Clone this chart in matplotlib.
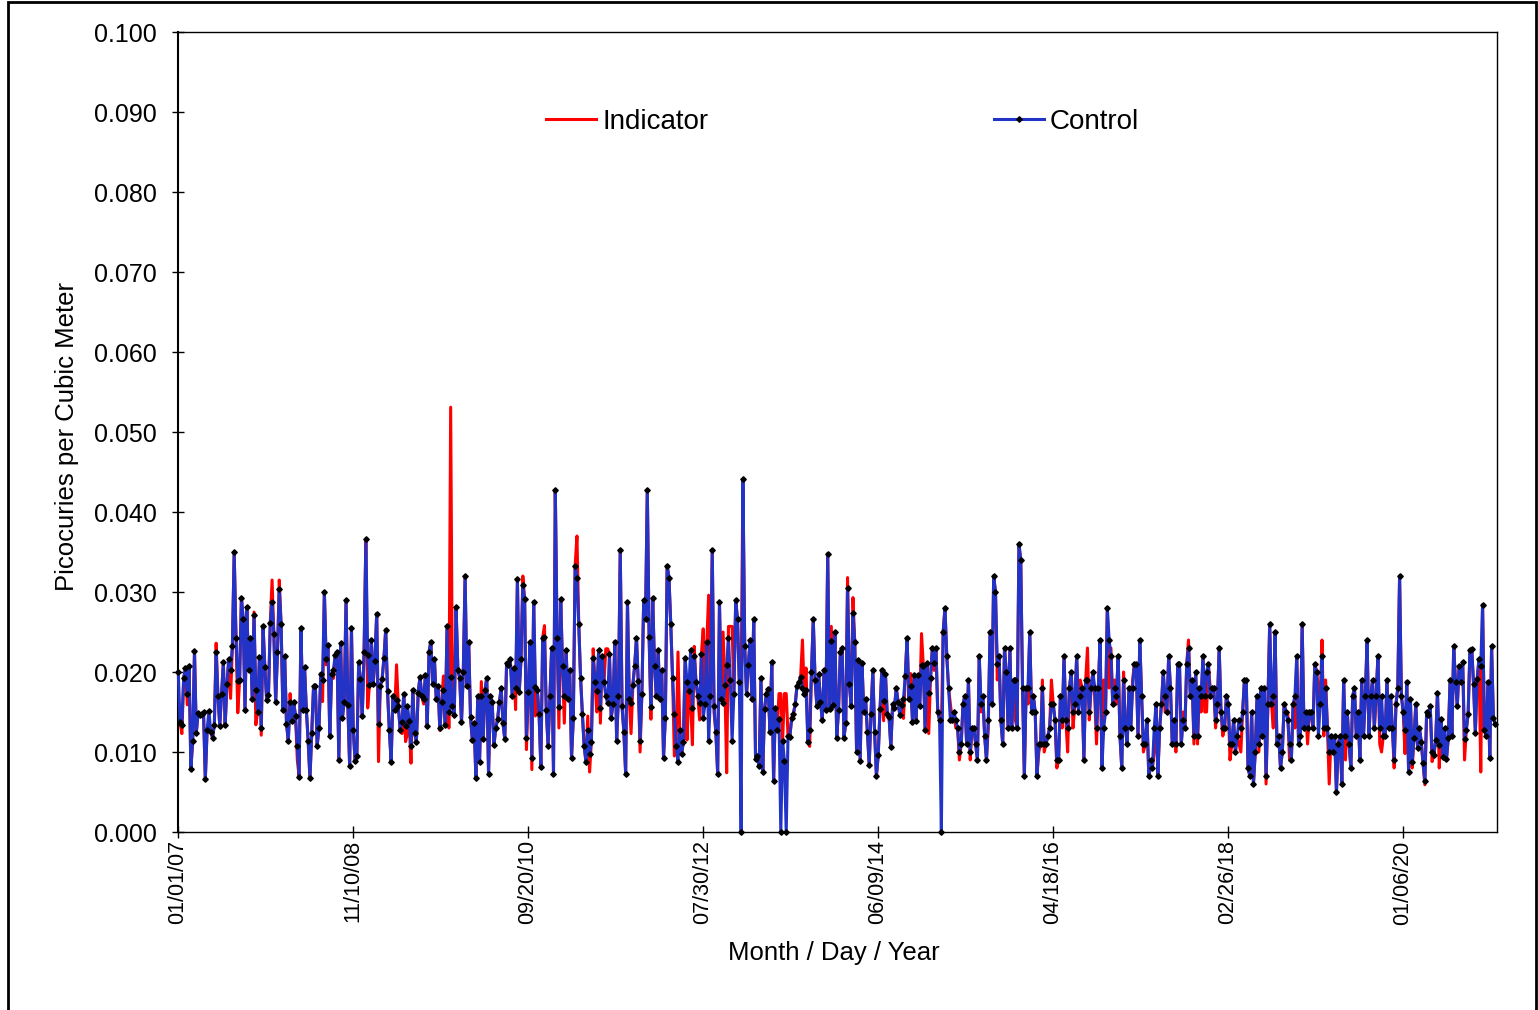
import numpy as np
import pandas as pd
import matplotlib
matplotlib.use('Agg')
import matplotlib.pyplot as plt
import matplotlib.ticker as mticker
from matplotlib.patches import Rectangle

plt.rcParams['font.family'] = ['Liberation Sans', 'DejaVu Sans']

# weekly air samples, in 0.001 pCi/m3
control = [
    20.0, 13.7, 13.4, 19.2, 20.5, 17.3, 20.8, 7.9, 11.4, 22.6, 12.4, 14.9, 14.6, 14.8, 15.0, 6.6, 12.8, 15.1, 12.5, 11.8,
    13.4, 22.5, 17.0, 13.3, 17.2, 21.2, 13.4, 18.5, 21.6, 20.3, 23.2, 35.0, 24.3, 18.9, 19.0, 29.3, 26.6, 15.2, 28.1, 20.3,
    24.3, 16.6, 27.1, 17.8, 15.0, 21.9, 13.0, 25.8, 20.6, 16.5, 17.1, 26.1, 28.7, 24.7, 16.2, 22.5, 30.4, 26.0, 15.2, 22.0,
    13.5, 11.4, 16.2, 13.9, 16.2, 14.5, 10.8, 6.9, 25.5, 15.3, 20.6, 15.3, 11.4, 6.7, 12.4, 18.2, 18.2, 10.8, 13.0, 19.8,
    19.0, 30.0, 21.6, 23.4, 12.0, 19.8, 20.2, 22.1, 22.5, 9.0, 23.6, 14.3, 16.3, 29.0, 15.9, 8.2, 25.5, 12.8, 8.9, 9.5,
    21.2, 19.1, 14.5, 22.5, 36.6, 22.1, 18.4, 24.0, 18.5, 21.4, 27.3, 13.5, 18.3, 19.1, 21.7, 25.3, 17.6, 12.7, 8.8, 17.0, 15.3,
    16.5, 15.7, 12.8, 13.7, 17.3, 13.3, 15.8, 13.9, 10.8, 17.8, 12.4, 11.3, 17.4, 19.4, 17.0, 16.6, 19.6, 13.2, 22.5, 23.8,
    18.5, 21.6, 16.6, 18.3, 13.0, 16.3, 17.8, 13.4, 25.7, 15.0, 19.4, 15.7, 14.6, 28.1, 20.2, 19.3, 13.7, 20.0, 32.0, 18.2,
    23.7, 14.4, 11.5, 13.6, 6.7, 17.0, 8.7, 17.0, 11.6, 17.7, 19.3, 7.3, 17.0, 16.2, 10.9, 13.0, 14.1, 16.2, 18.0, 13.6, 11.6, 21.1,
    20.9, 21.6, 17.0, 20.5, 18.0, 31.6, 17.5, 21.6, 30.9, 29.1, 11.8, 17.5, 23.8, 9.2, 28.8, 18.1, 17.8, 14.8, 8.1, 24.3,
    24.4, 15.2, 10.7, 17.0, 23.0, 7.3, 42.8, 24.3, 15.6, 29.1, 20.7, 17.0, 22.7, 16.6, 20.2, 9.3, 14.3, 33.3, 31.8, 26.0,
    19.3, 14.8, 10.7, 8.8, 12.8, 9.7, 11.3, 21.7, 18.8, 17.6, 22.7, 15.5, 22.0, 18.7, 17.0, 16.1, 22.3, 14.3, 16.0,
    23.8, 11.4, 17.0, 35.3, 15.7, 12.5, 7.3, 28.7, 16.6, 16.1, 18.4, 20.8, 24.3, 18.9, 11.4, 17.3, 29.0, 26.6, 42.8, 24.4,
    15.6, 29.2, 20.7, 17.0, 22.7, 16.6, 20.2, 9.3, 14.3, 33.3, 31.8, 26.0, 19.3, 14.8, 10.7, 8.8, 12.8, 9.7, 11.3, 21.7,
    18.8, 17.6, 22.7, 15.5, 22.0, 18.7, 17.0, 16.1, 22.3, 14.3, 16.0, 23.8, 11.4, 17.0, 35.3, 15.7, 12.5, 7.3, 28.7, 16.6, 16.1, 18.4,
    20.9, 24.3, 19.0, 11.4, 17.3, 29.0, 26.6, 18.7, 0.0, 44.1, 23.2, 17.2, 20.9, 24.0, 16.6, 26.6, 9.1, 9.5, 8.2, 19.3,
    7.5, 15.4, 17.3, 17.9, 12.5, 21.2, 6.4, 15.5, 12.7, 14.1, 0.0, 11.4, 8.9, 0.0, 12.0, 11.9, 14.2, 14.8, 16.0, 18.3,
    18.7, 19.4, 18.0, 17.3, 17.8, 11.3, 12.8, 20.0, 26.6, 19.0, 15.7, 19.7, 16.3, 14.0, 20.3, 15.2, 34.8, 15.4, 23.9, 15.9, 25.0, 11.8,
    15.2, 22.5, 23.0, 11.8, 13.6, 30.5, 18.5, 15.7, 27.4, 23.7, 10.0, 21.5, 8.9, 21.1, 15.0, 16.6, 12.5, 8.4, 14.8, 20.2,
    12.5, 7.0, 9.6, 15.4, 20.3, 16.4, 19.8, 14.7, 14.4, 10.6, 16.0, 15.5, 18.0, 16.3, 14.6, 15.9, 16.6, 19.5, 24.3, 16.6,
    18.3, 13.8, 19.6, 13.9, 19.6, 15.7, 20.9, 20.8, 12.8, 21.1, 17.4, 19.3, 23.0, 21.1, 23.0, 15.0, 14.0, 0.0, 25.0, 28.0,
    22, 18, 14, 14, 15, 14, 13, 10, 11, 16, 17, 11, 19, 10, 13, 13, 11, 9, 22, 16,
    17, 12, 9, 14, 25, 16, 32, 30, 21, 22, 14, 11, 23, 20, 13, 23, 13, 19, 19, 13,
    36, 34, 18, 7, 18, 18, 25, 15, 17, 15, 7, 11, 11, 18, 11, 11, 12, 13, 16, 16, 14,
    9, 9, 17, 14, 22, 14, 13, 18, 20, 15, 16, 22, 15, 17, 18, 9, 19, 19, 15, 18,
    20, 18, 13, 18, 24, 8, 13, 15, 28, 24, 22, 16, 18, 17, 22, 12, 8, 19, 13, 11,
    18, 13, 18, 21, 21, 12, 24, 17, 11, 11, 14, 7, 9, 8, 13, 16, 7, 13, 16, 20, 17,
    15, 22, 18, 11, 14, 11, 21, 21, 11, 14, 13, 21, 23, 17, 19, 12, 20, 12, 18, 17,
    22, 17, 20, 21, 17, 18, 18, 14, 16, 23, 15, 13, 13, 17, 16, 11, 11, 14, 10, 12,
    14, 13, 15, 19, 19, 8, 7, 15, 6, 10, 17, 11, 18, 12, 18, 7, 16, 26, 16, 17, 25, 11,
    12, 8, 10, 16, 15, 14, 11, 9, 16, 17, 22, 11, 12, 26, 13, 15, 13, 15, 15, 13,
    21, 20, 12, 16, 22, 13, 18, 13, 10, 12, 10, 12, 5, 11, 12, 6, 19, 12, 15, 11,
    8, 17, 18, 12, 15, 9, 19, 12, 17, 24, 12, 17, 19, 13, 17, 22, 13, 17, 12, 12, 19,
    13, 17, 13, 9, 16, 18, 32, 17, 15, 12.7, 18.8, 7.5, 16.6, 8.8, 11.8, 16, 10.5, 13, 11.3, 8.6,
    6.4, 15, 14.6, 15.7, 10, 9.6, 11.5, 17.4, 10.9, 14.1, 9.4, 13, 9.1, 11.8, 19, 12, 23.2, 18.7, 15.8, 20.7,
    18.8, 21.2, 11.6, 12.8, 14.8, 22.8, 22.9, 18.5, 12.4, 19.1, 21.6, 20.7, 28.4, 12.8, 12, 18.8, 9.2, 23.2, 14.2, 13.5,
]

indicator = [
    14.6, 13.7, 12.3, 19.2, 20.5, 15.9, 20.8, 7.9, 11.4, 22.6, 12.4, 14.9, 14.6, 14.8, 15.0, 6.6, 12.8, 12.9, 12.5, 11.8,
    13.4, 23.6, 17.0, 13.3, 17.2, 21.2, 13.4, 18.5, 21.6, 16.7, 23.2, 35.0, 24.3, 14.9, 19.0, 29.3, 26.6, 15.2, 28.1, 20.3,
    24.3, 16.6, 27.5, 13.4, 15.0, 21.9, 12.1, 25.8, 20.6, 16.5, 17.1, 26.1, 31.5, 24.7, 16.2, 22.5, 31.5, 26.0, 15.2, 22.0,
    13.5, 11.4, 17.3, 13.9, 16.2, 14.5, 9.0, 6.9, 25.5, 15.3, 20.6, 15.3, 11.4, 6.7, 12.4, 18.2, 18.2, 10.8, 13.0, 19.8,
    16.3, 30.0, 20.9, 23.4, 12.0, 19.8, 19.2, 22.1, 22.5, 9.0, 23.6, 14.3, 16.3, 29.0, 15.9, 8.2, 25.5, 12.8, 8.9, 9.5,
    21.2, 19.1, 14.5, 22.5, 36.6, 15.5, 18.4, 24.0, 18.5, 21.4, 27.3, 8.8, 18.3, 19.1, 21.7, 25.3, 17.6, 12.7, 8.8, 17.0, 15.3,
    20.9, 15.7, 12.8, 12.3, 17.3, 11.3, 12.3, 13.9, 8.6, 17.8, 12.4, 11.3, 17.4, 19.4, 17.0, 16.0, 19.6, 13.2, 22.5, 23.8,
    18.5, 21.6, 16.6, 18.3, 12.7, 16.3, 19.5, 13.4, 25.7, 13.0, 53.1, 15.7, 14.6, 28.1, 20.2, 19.3, 13.7, 20.0, 32.0, 18.2,
    23.7, 14.4, 11.5, 13.6, 6.7, 17.0, 8.7, 18.8, 11.6, 17.7, 19.3, 7.3, 17.0, 16.2, 10.9, 13.0, 14.1, 16.2, 18.0, 13.6, 11.6, 21.1,
    20.9, 21.6, 18.5, 20.5, 15.3, 31.6, 17.5, 21.6, 32.0, 29.1, 10.3, 17.5, 23.8, 7.8, 28.8, 14.5, 17.8, 14.8, 8.1, 24.3,
    25.8, 15.2, 10.7, 17.0, 23.0, 7.3, 42.8, 24.3, 13.0, 29.1, 20.7, 13.6, 22.7, 16.6, 20.2, 9.3, 14.3, 33.3, 37.0, 26.0,
    19.3, 14.8, 10.7, 8.8, 14.5, 7.5, 11.3, 22.9, 18.8, 15.0, 22.7, 13.6, 22.0, 18.7, 22.9, 22.9, 22.3, 14.3, 16.0,
    23.8, 11.4, 17.0, 35.3, 15.7, 12.5, 7.3, 28.7, 16.6, 12.3, 18.4, 20.8, 24.3, 18.2, 10.0, 17.3, 29.0, 26.6, 42.8, 24.4,
    14.1, 29.2, 20.7, 17.0, 22.7, 16.6, 20.2, 9.3, 14.3, 33.3, 31.8, 26.0, 19.3, 9.5, 10.7, 22.5, 12.8, 9.7, 11.3, 21.7,
    11.5, 17.6, 16.3, 10.9, 23.2, 18.7, 17.0, 14.0, 22.3, 25.4, 16.0, 23.8, 29.6, 17.0, 35.3, 14.9, 12.5, 7.3, 28.7, 16.6, 25.0, 18.4,
    7.4, 25.7, 25.7, 25.7, 17.3, 29.0, 26.6, 18.7, 18.0, 44.1, 23.2, 17.2, 20.9, 24.0, 16.6, 26.6, 9.1, 9.5, 8.2, 19.3,
    7.5, 15.4, 17.3, 17.9, 12.5, 21.2, 6.4, 15.5, 12.7, 17.3, 17.3, 11.4, 17.3, 17.3, 12.0, 11.9, 14.2, 14.8, 16.0, 18.3,
    18.7, 19.4, 24.0, 17.3, 20.5, 11.3, 10.7, 20.0, 26.6, 19.0, 15.7, 19.7, 16.3, 14.0, 20.3, 15.2, 34.8, 15.4, 25.7, 15.9, 25.0, 11.8,
    15.2, 22.5, 23.0, 11.8, 13.6, 31.8, 18.5, 15.7, 29.3, 23.7, 10.0, 21.5, 8.9, 21.1, 15.0, 16.6, 12.5, 8.4, 14.8, 20.2,
    12.5, 7.0, 9.6, 15.4, 20.3, 13.9, 19.8, 14.7, 14.4, 10.6, 16.0, 15.5, 18.0, 16.3, 14.6, 15.9, 14.2, 19.5, 24.3, 16.6,
    19.8, 13.8, 19.6, 13.9, 19.6, 15.7, 24.8, 20.8, 12.8, 21.1, 12.3, 19.3, 23.0, 20.2, 23.0, 15.0, 14.0, 13.0, 25.0, 28.0,
    22, 18, 16, 14, 15, 13, 13, 9, 11, 16, 17, 11, 19, 9, 13, 13, 11, 9, 22, 15,
    17, 12, 9, 13, 25, 16, 32, 30, 19, 22, 14, 11, 23, 20, 13, 23, 13, 19, 14, 13,
    36, 34, 18, 7, 18, 16, 25, 15, 17, 15, 7, 10, 11, 19, 10, 11, 12, 13, 19, 16, 14,
    8, 9, 17, 13, 22, 14, 10, 18, 20, 13, 16, 22, 15, 19, 18, 9, 19, 23, 14, 18,
    20, 17, 11, 18, 24, 8, 19, 15, 28, 18, 23, 16, 19, 16, 22, 12, 8, 20, 13, 11,
    18, 13, 19, 21, 21, 12, 24, 17, 10, 11, 14, 7, 8, 8, 10, 16, 7, 13, 16, 20, 15,
    15, 22, 18, 11, 14, 10, 21, 21, 11, 15, 13, 21, 24, 17, 19, 11, 20, 11, 18, 15,
    22, 15, 15, 21, 18, 18, 18, 13, 16, 23, 15, 12, 13, 17, 16, 9, 11, 14, 10, 12,
    11, 10, 15, 19, 19, 8, 7, 15, 6, 10, 17, 10, 18, 12, 18, 6, 16, 26, 16, 13, 25, 11,
    12, 8, 10, 16, 15, 15, 9, 9, 16, 13, 22, 11, 12, 26, 13, 15, 11, 15, 15, 13,
    21, 20, 18, 16, 24, 12, 19, 13, 6, 12, 10, 12, 5, 11, 12, 6, 19, 9, 15, 11,
    8, 17, 18, 12, 15, 9, 19, 12, 17, 24, 12, 17, 19, 13, 17, 22, 11, 10, 12, 12, 19,
    13, 17, 13, 8, 16, 18, 32, 17, 15, 9.8, 18.8, 7.5, 16.6, 8.0, 11.8, 16, 10.5, 13, 11.3, 8.6,
    5.9, 15, 14.6, 15.7, 8.8, 9.6, 11.5, 17.4, 8.0, 14.1, 9.4, 9.8, 9.1, 11.8, 19, 12, 23.2, 18.7, 15.8, 20.7,
    18.8, 21.2, 9.0, 12.8, 14.8, 22.8, 22.9, 18.5, 12.4, 19.1, 21.6, 7.5, 28.4, 12.8, 12, 18.8, 9.2, 23.2, 14.2, 13.5,
]

tick_dates = ['2007-01-01', '2008-11-10', '2010-09-20', '2012-07-30',
              '2014-06-09', '2016-04-18', '2018-02-26', '2020-01-06']

ctl = np.array(control) / 1000.0
ind = np.array(indicator) / 1000.0
dates = pd.date_range('2007-01-02', periods=len(ctl), freq='7D')

W, H = 1538, 1010
fig = plt.figure(figsize=(W / 100, H / 100), dpi=100)
ax = fig.add_axes([178 / W, 178 / H, 1319 / W, 800 / H])

ax.plot(dates, ind, color='#FF0000', lw=2.2, label='Indicator', zorder=2)
ax.plot(dates, ctl, color='#2233C8', lw=2.2, marker='D', ms=2.8,
        mfc='black', mec='black', label='Control', zorder=3, clip_on=False)

ax.set_ylim(0, 0.1)
ax.set_xlim(pd.Timestamp('2007-01-01'), pd.Timestamp('2021-01-05'))
ax.set_yticks(np.arange(0, 0.1001, 0.01))
ax.yaxis.set_major_formatter(mticker.FormatStrFormatter('%.3f'))
ax.set_xticks(pd.to_datetime(tick_dates))
ax.set_xticklabels([pd.Timestamp(d).strftime('%m/%d/%y') for d in tick_dates],
                   rotation=90, fontsize=15.5)
ax.tick_params(axis='both', direction='inout', length=8, width=1)
ax.tick_params(axis='y', labelsize=18, pad=11)
ax.tick_params(axis='x', pad=2)
for s in ax.spines.values():
    s.set_linewidth(1.0)
ax.spines['left'].set_linewidth(1.5)

ax.set_xlabel('Month / Day / Year', fontsize=18.5)
ax.xaxis.label.set_va('center')
ax.xaxis.set_label_coords(0.497, -0.151)
ax.set_ylabel('Picocuries per Cubic Meter', fontsize=18.5)
ax.yaxis.label.set_va('center')
ax.yaxis.set_label_coords(-0.0842, 0.494)

ax.legend(loc='center', bbox_to_anchor=(0.504, 0.888), ncol=2, frameon=False,
          fontsize=20, handlelength=1.8, handletextpad=0.2, columnspacing=10.3)

# outer frame around the page
fig.patches.append(Rectangle((8 / W, -0.05), (1536 - 8) / W, 1.05 - 2 / H,
                             transform=fig.transFigure, fill=False,
                             lw=2, ec='black'))

fig.savefig('out.png', dpi=100)
